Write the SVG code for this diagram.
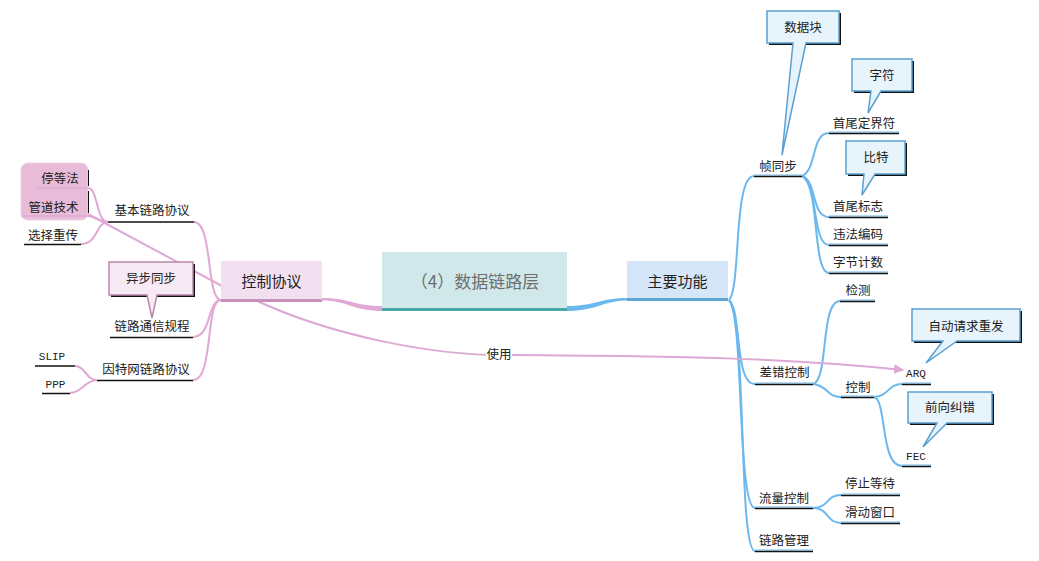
<svg xmlns="http://www.w3.org/2000/svg" width="1039" height="561" viewBox="0 0 1039 561">
<style>
text{font-family:"Noto Sans CJK SC","Noto Sans",sans-serif;fill:#222;text-anchor:middle}
.lbl{font-size:12.5px}
.top{font-size:15px}
.mono{font-family:"Liberation Mono",monospace;font-size:11px}
.bc{fill:none;stroke:#6ab8ee;stroke-width:2}
.pc{fill:none;stroke:#e0a8d4;stroke-width:2}
.ul{stroke:#111;stroke-width:1.5}
.ulb{stroke:#6ab8ee;stroke-width:1}
.co{fill:#e8f4fc;stroke:#5aa0d0;stroke-width:1.5}
.cop{fill:#f8eaf5;stroke:#b888a8;stroke-width:1.5}
.sh{fill:#111}
</style>
<defs>
<marker id="arr" viewBox="0 0 10 10" refX="9" refY="5" markerWidth="5" markerHeight="5" orient="auto" markerUnits="strokeWidth">
<path d="M0,0 L10,5 L0,10 Z" fill="#dca8d4"/>
</marker>
</defs>
<rect width="1039" height="561" fill="#fff"/>

<g id="connectors">
<!-- central to main topics -->
<path d="M566,306 C596,306 600,298 628,298 L628,300.5 C602,300.5 598,311 566,311 Z" fill="#6ab8ee"/>
<path d="M383,306 C353,306 350,298 322,298 L322,300.5 C348,300.5 352,311 383,311 Z" fill="#e0a8d4"/>
<!-- right side -->
<path class="bc" d="M729,300 C741,290 733,176 754,176"/>
<path class="bc" d="M729,300 C742,310 734,384 755,384"/>
<path class="bc" d="M729,300 C744,315 737,508 755,508"/>
<path class="bc" d="M729,300 C747,320 738,551 755,551"/>
<path class="bc" d="M802,176 C817,170 811,133 829,133"/>
<path class="bc" d="M802,176 C817,180 811,217 829,217"/>
<path class="bc" d="M802,176 C818,182 812,245 829,245"/>
<path class="bc" d="M802,176 C820,184 812,273 829,273"/>
<path class="bc" d="M813,384 C829,380 820,301 840,301"/>
<path class="bc" d="M813,384 C829,386 826,397 841,397"/>
<path class="bc" d="M874,397 C889,396 888,384 902,384"/>
<path class="bc" d="M874,397 C887,400 880,466 902,466"/>
<path class="bc" d="M813,508 C829,508 826,495 841,495"/>
<path class="bc" d="M813,508 C829,508 826,523 841,523"/>
<!-- left side -->
<path class="pc" d="M221,300 C206,300 213,222 194,222"/>
<path class="pc" d="M221,300 C207,300 212,337 193,337"/>
<path class="pc" d="M221,300 C205,300 214,380 193,380"/>
<path class="pc" d="M108,222 C96,222 98,188 88,188"/>
<path class="pc" d="M108,222 C98,222 96,216 88,216"/>
<path class="pc" d="M108,222 C96,222 98,244 81,244"/>
<path class="pc" d="M97,380 C86,380 85,366 75,366"/>
<path class="pc" d="M97,380 C85,380 82,393 70,393"/>
<path class="pc" d="M88,214 L222,286" stroke-width="1.5"/>
<!-- relationship -->
<path d="M255,300 C330,335 430,355 500,355 C680,356 790,358 903,370" fill="none" stroke="#dca8d4" stroke-width="2" marker-end="url(#arr)"/>
<rect x="486" y="346" width="26" height="16" fill="#fff"/>
<text class="lbl" x="499" y="359">使用</text>
</g>

<g id="central">
<rect x="382" y="252" width="185" height="59" fill="#d0e8ea"/>
<rect x="382" y="308" width="185" height="3" fill="#48a8a8"/>
<text x="475" y="288" style="font-size:17px;fill:#6e6e6e">（4）数据链路层</text>
</g>

<g id="main-func">
<rect x="627" y="261" width="101" height="40" fill="#d4e6f8"/>
<rect x="627" y="298" width="101" height="3" fill="#5ea4d4"/>
<text class="top" x="677.5" y="287">主要功能</text>
</g>

<g id="ctrl-proto">
<rect x="221" y="261" width="101" height="41" fill="#f2dff0"/>
<rect x="221" y="299" width="101" height="3" fill="#c890b8"/>
<text class="top" x="271.5" y="287">控制协议</text>
</g>

<!-- right side nodes -->
<g id="n-frame"><line class="ulb" x1="754" y1="175" x2="802" y2="175"/><line class="ul" x1="754" y1="176.5" x2="802" y2="176.5"/><text class="lbl" x="778" y="171">帧同步</text></g>
<g id="n-delim"><line class="ulb" x1="829" y1="132" x2="899" y2="132"/><line class="ul" x1="829" y1="133.5" x2="899" y2="133.5"/><text class="lbl" x="864" y="128">首尾定界符</text></g>
<g id="n-flag"><line class="ulb" x1="829" y1="216" x2="888" y2="216"/><line class="ul" x1="829" y1="217.5" x2="888" y2="217.5"/><text class="lbl" x="858" y="211">首尾标志</text></g>
<g id="n-illegal"><line class="ulb" x1="829" y1="244" x2="888" y2="244"/><line class="ul" x1="829" y1="245.5" x2="888" y2="245.5"/><text class="lbl" x="858" y="239">违法编码</text></g>
<g id="n-count"><line class="ulb" x1="829" y1="272" x2="888" y2="272"/><line class="ul" x1="829" y1="273.5" x2="888" y2="273.5"/><text class="lbl" x="858" y="267">字节计数</text></g>
<g id="n-err"><line class="ulb" x1="755" y1="383" x2="813" y2="383"/><line class="ul" x1="755" y1="384.5" x2="813" y2="384.5"/><text class="lbl" x="784.5" y="377">差错控制</text></g>
<g id="n-detect"><line class="ulb" x1="840" y1="300" x2="875" y2="300"/><line class="ul" x1="840" y1="301.5" x2="875" y2="301.5"/><text class="lbl" x="858" y="295">检测</text></g>
<g id="n-ctl"><line class="ulb" x1="841" y1="396" x2="874" y2="396"/><line class="ul" x1="841" y1="397.5" x2="874" y2="397.5"/><text class="lbl" x="858" y="392">控制</text></g>
<g id="n-arq"><line class="ulb" x1="902" y1="383" x2="931" y2="383"/><line class="ul" x1="902" y1="384.5" x2="931" y2="384.5"/><text class="mono" x="916" y="377">ARQ</text></g>
<g id="n-fec"><line class="ulb" x1="902" y1="465" x2="931" y2="465"/><line class="ul" x1="902" y1="466.5" x2="931" y2="466.5"/><text class="mono" x="916" y="460">FEC</text></g>
<g id="n-flow"><line class="ulb" x1="755" y1="507" x2="813" y2="507"/><line class="ul" x1="755" y1="508.5" x2="813" y2="508.5"/><text class="lbl" x="784" y="503">流量控制</text></g>
<g id="n-stopwait"><line class="ulb" x1="841" y1="494" x2="900" y2="494"/><line class="ul" x1="841" y1="495.5" x2="900" y2="495.5"/><text class="lbl" x="870" y="488">停止等待</text></g>
<g id="n-window"><line class="ulb" x1="841" y1="522" x2="900" y2="522"/><line class="ul" x1="841" y1="523.5" x2="900" y2="523.5"/><text class="lbl" x="870" y="517">滑动窗口</text></g>
<g id="n-linkmgmt"><line class="ulb" x1="755" y1="550" x2="813" y2="550"/><line class="ul" x1="755" y1="551.5" x2="813" y2="551.5"/><text class="lbl" x="784" y="545">链路管理</text></g>

<!-- callouts -->
<g id="c-datablock">
<rect class="sh" x="769" y="13" width="72" height="32"/>
<path class="co" d="M767,11 H839 V43 H806 L782,155 L793,43 H767 Z"/>
<text class="lbl" x="803" y="32">数据块</text>
</g>
<g id="c-char">
<rect class="sh" x="854" y="61" width="60" height="32"/>
<path class="co" d="M852,59 H912 V91 H881 L868,113 L871,91 H852 Z"/>
<text class="lbl" x="882" y="80">字符</text>
</g>
<g id="c-bit">
<rect class="sh" x="848" y="143" width="59" height="33"/>
<path class="co" d="M846,141 H905 V174 H875 L862,195 L864,174 H846 Z"/>
<text class="lbl" x="876" y="162">比特</text>
</g>
<g id="c-arqnote">
<rect class="sh" x="914" y="311" width="108" height="32"/>
<path class="co" d="M912,309 H1020 V341 H957 L926,363 L943,341 H912 Z"/>
<text class="lbl" x="966" y="331">自动请求重发</text>
</g>
<g id="c-fecnote">
<rect class="sh" x="910" y="394" width="84" height="31"/>
<path class="co" d="M908,392 H992 V423 H947 L923,447 L937,423 H908 Z"/>
<text class="lbl" x="950" y="412">前向纠错</text>
</g>
<g id="c-async">
<rect class="sh" x="111" y="264" width="84" height="33"/>
<path class="cop" d="M109,262 H193 V295 H157 L152,318 L147,295 H109 Z"/>
<text class="lbl" x="151" y="283">异步同步</text>
</g>

<!-- left side nodes -->
<g id="n-basic"><line class="ul" x1="108" y1="222" x2="194" y2="222"/><text class="lbl" x="152" y="215">基本链路协议</text></g>
<g id="n-comm"><line class="ul" x1="110" y1="337.5" x2="193" y2="337.5"/><text class="lbl" x="152" y="331">链路通信规程</text></g>
<g id="n-inet"><line class="ul" x1="97" y1="380.5" x2="193" y2="380.5"/><text class="lbl" x="146" y="374">因特网链路协议</text></g>
<g id="sel-highlight">
<rect x="21" y="163" width="67" height="57" rx="7" fill="#e8bcd8" stroke="#f0d0e4" stroke-width="1"/>
<line x1="88.5" y1="170" x2="88.5" y2="186" stroke="#111" stroke-width="1"/>
<line x1="88.5" y1="191" x2="88.5" y2="213" stroke="#111" stroke-width="1"/>
</g>
<g id="n-stopwaitm"><line x1="37" y1="188" x2="88" y2="188" stroke="#d8a0c8" stroke-width="1"/><text class="lbl" x="60" y="183">停等法</text></g>
<g id="n-pipe"><line x1="21" y1="216" x2="88" y2="216" stroke="#d8a0c8" stroke-width="1"/><text class="lbl" x="53.5" y="212">管道技术</text></g>
<g id="n-selrep"><line class="ul" x1="24" y1="244.5" x2="81" y2="244.5"/><text class="lbl" x="53" y="240">选择重传</text></g>
<g id="n-slip"><line class="ul" x1="35" y1="366" x2="75" y2="366"/><text class="mono" x="52" y="360">SLIP</text></g>
<g id="n-ppp"><line class="ul" x1="42" y1="393.5" x2="70" y2="393.5"/><text class="mono" x="55.5" y="388">PPP</text></g>
</svg>
